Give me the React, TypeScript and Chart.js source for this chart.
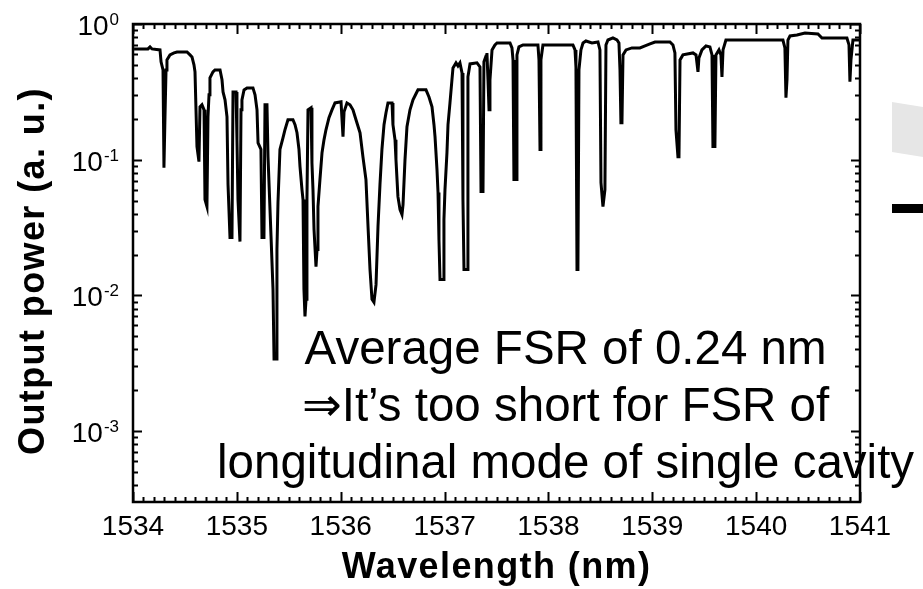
import React, { useEffect, useRef } from 'react';
import { Chart, registerables } from 'chart.js';

Chart.register(...registerables);

// Wavelength (nm) of each traced point
const wavelength = [
  1534.010, 1534.144, 1534.164, 1534.183, 1534.260, 1534.270, 1534.289, 1534.298, 1534.308, 1534.318,
  1534.327, 1534.356, 1534.395, 1534.424, 1534.520, 1534.549, 1534.568, 1534.587, 1534.597, 1534.616,
  1534.635, 1534.645, 1534.664, 1534.684, 1534.693, 1534.712, 1534.722, 1534.732, 1534.741, 1534.770,
  1534.789, 1534.838, 1534.857, 1534.867, 1534.886, 1534.905, 1534.915, 1534.934, 1534.953, 1534.963,
  1534.992, 1535.001, 1535.011, 1535.030, 1535.040, 1535.049, 1535.069, 1535.098, 1535.155, 1535.175,
  1535.194, 1535.204, 1535.232, 1535.242, 1535.261, 1535.271, 1535.290, 1535.300, 1535.329, 1535.348,
  1535.358, 1535.377, 1535.386,
  1535.396, 1535.415, 1535.444, 1535.463, 1535.492, 1535.540, 1535.560, 1535.579, 1535.598, 1535.608,
  1535.627, 1535.637, 1535.646, 1535.656, 1535.666, 1535.675, 1535.685, 1535.714, 1535.723, 1535.733,
  1535.743, 1535.762, 1535.772, 1535.781, 1535.800, 1535.820, 1535.839, 1535.858, 1535.887, 1535.916,
  1535.945, 1536.003, 1536.022, 1536.032, 1536.060, 1536.089, 1536.118, 1536.147, 1536.186, 1536.214,
  1536.243, 1536.263, 1536.282, 1536.301, 1536.320, 1536.340, 1536.359, 1536.378, 1536.397, 1536.417,
  1536.436, 1536.455, 1536.494, 1536.503, 1536.523, 1536.532, 1536.551, 1536.571, 1536.590, 1536.600,
  1536.619, 1536.638, 1536.667, 1536.696, 1536.725, 1536.744, 1536.821, 1536.850, 1536.879, 1536.898,
  1536.908, 1536.927, 1536.937, 1536.946, 1536.956, 1536.985, 1536.994, 1537.004, 1537.023, 1537.033,
  1537.052, 1537.071, 1537.081, 1537.110, 1537.129, 1537.148, 1537.168, 1537.177, 1537.187, 1537.216,
  1537.225, 1537.245, 1537.312, 1537.341, 1537.351, 1537.370, 1537.379, 1537.399, 1537.408, 1537.418,
  1537.428, 1537.437, 1537.457, 1537.485, 1537.505, 1537.630, 1537.649, 1537.659, 1537.668, 1537.688,
  1537.697, 1537.716, 1537.755, 1537.899, 1537.909, 1537.919, 1537.928, 1537.947, 1538.236, 1538.256,
  1538.265, 1538.275, 1538.284, 1538.294, 1538.313, 1538.333, 1538.361, 1538.419, 1538.477, 1538.496,
  1538.506, 1538.525, 1538.544, 1538.554, 1538.573, 1538.621, 1538.660, 1538.679, 1538.689, 1538.698,
  1538.708, 1538.718, 1538.747, 1538.804, 1538.881, 1538.930, 1538.978, 1539.026, 1539.170, 1539.199,
  1539.218, 1539.228, 1539.247, 1539.257, 1539.267, 1539.295, 1539.392, 1539.421, 1539.440, 1539.449,
  1539.478, 1539.517, 1539.555, 1539.575, 1539.584, 1539.603, 1539.613, 1539.642, 1539.661, 1539.671,
  1539.681, 1539.709, 1540.258, 1540.277, 1540.287, 1540.297, 1540.306, 1540.326, 1540.393, 1540.470,
  1540.595, 1540.634, 1540.874, 1540.894, 1540.903, 1540.913, 1540.932, 1541.000,
];

// Output power (a. u.) at each traced point
const power = [
  0.655, 0.655, 0.678, 0.655, 0.644, 0.526, 0.459, 0.0873, 0.207, 0.459,
  0.544, 0.592, 0.612, 0.622, 0.622, 0.592, 0.572, 0.5, 0.444, 0.125,
  0.0967, 0.245, 0.254, 0.233, 0.0508, 0.0451, 0.207, 0.301, 0.401, 0.444,
  0.459, 0.459, 0.388, 0.316, 0.276, 0.207, 0.0655, 0.0267, 0.0267, 0.316,
  0.316, 0.140, 0.0508, 0.0249, 0.233, 0.276, 0.327, 0.338, 0.338, 0.301,
  0.233, 0.133, 0.119, 0.0267, 0.0267, 0.254, 0.254, 0.105, 0.0272, 0.0111,
  0.0034, 0.0034, 0.0218,
  0.0483, 0.119, 0.145, 0.166, 0.197, 0.197, 0.181, 0.158, 0.119, 0.0888,
  0.0602, 0.0508, 0.0111, 0.0070, 0.00935, 0.0508, 0.233, 0.241, 0.095, 0.0602,
  0.0306, 0.0163, 0.0218, 0.0451, 0.0713, 0.1126, 0.140, 0.166, 0.204, 0.233,
  0.262, 0.267, 0.148, 0.225, 0.262, 0.254, 0.233, 0.197, 0.158, 0.105,
  0.0713, 0.0322, 0.0155, 0.00935, 0.0089, 0.0120, 0.0322, 0.0655, 0.119, 0.181,
  0.222, 0.262, 0.262, 0.181, 0.140, 0.1, 0.0534, 0.0429, 0.0394, 0.0467,
  0.1, 0.175, 0.233, 0.276, 0.306, 0.327, 0.327, 0.290, 0.245, 0.181,
  0.148, 0.0844, 0.0572, 0.0258, 0.0131, 0.0131, 0.0362, 0.0602, 0.1126, 0.181,
  0.262, 0.388, 0.475, 0.517, 0.491, 0.517, 0.436, 0.0508, 0.0155, 0.0155,
  0.408, 0.508, 0.517, 0.483, 0.0582, 0.0582, 0.526, 0.582, 0.612, 0.388,
  0.233, 0.388, 0.644, 0.701, 0.725, 0.725, 0.666, 0.544, 0.0713, 0.0713,
  0.592, 0.678, 0.701, 0.701, 0.544, 0.119, 0.544, 0.701, 0.701, 0.644,
  0.483, 0.0155, 0.0155, 0.459, 0.644, 0.725, 0.750, 0.725, 0.737, 0.644,
  0.0678, 0.0451, 0.0602, 0.701, 0.762, 0.789, 0.762, 0.725, 0.459, 0.187,
  0.187, 0.592, 0.644, 0.666, 0.666, 0.689, 0.713, 0.737, 0.737, 0.701,
  0.612, 0.166, 0.105, 0.105, 0.544, 0.592, 0.612, 0.592, 0.444, 0.562,
  0.644, 0.689, 0.678, 0.592, 0.125, 0.125, 0.592, 0.644, 0.592, 0.408,
  0.644, 0.762, 0.762, 0.666, 0.286, 0.388, 0.762, 0.816, 0.830, 0.859,
  0.844, 0.789, 0.789, 0.701, 0.375, 0.544, 0.762, 0.762,
];

const xMin = 1534;
const xMax = 1541;
const yMin = 3.1e-4;
const yMax = 1;
const xTickValues = [1534, 1535, 1536, 1537, 1538, 1539, 1540, 1541];
const yDecadeExponents = [0, -1, -2, -3];
const xTitle = 'Wavelength (nm)';
const yTitle = 'Output power (a. u.)';
const annotationLines = [
  'Average FSR of 0.24 nm',
  '\u21D2It\u2019s too short for FSR of',
  'longitudinal mode of single cavity',
];

const FONT = '"Liberation Sans", Arial, "DejaVu Sans", sans-serif';

const framePlugin = {
  id: 'framePlugin',
  afterDatasetsDraw(chart: any) {
    const ctx = chart.ctx as CanvasRenderingContext2D;
    const { left, right, top, bottom } = chart.chartArea;
    const xs = chart.scales.x;
    const ys = chart.scales.y;
    ctx.save();
    ctx.fillStyle = '#000';
    ctx.strokeStyle = '#000';

    // annotation text
    ctx.font = `47.5px ${FONT}`;
    ctx.textAlign = 'center';
    ctx.textBaseline = 'alphabetic';
    const acx = left + (right - left) * 0.595;
    annotationLines.forEach((t, i) => {
      ctx.fillText(t, acx, 364 + i * 57);
    });

    // frame
    ctx.lineWidth = 2.5;
    ctx.strokeRect(left, top, right - left, bottom - top);

    // x ticks (inward, top & bottom)
    ctx.lineWidth = 2;
    ctx.beginPath();
    const nMinor = Math.round((xMax - xMin) * 10);
    for (let i = 0; i <= nMinor; i++) {
      const v = xMin + i / 10;
      const px = Math.round(xs.getPixelForValue(v)) + 0.5;
      const len = i % 10 === 0 ? 10 : 5;
      ctx.moveTo(px, bottom);
      ctx.lineTo(px, bottom - len);
      ctx.moveTo(px, top);
      ctx.lineTo(px, top + len);
    }
    // y ticks (inward, left & right)
    for (let d = -4; d <= 0; d++) {
      for (let m = 1; m <= 9; m++) {
        const v = m * Math.pow(10, d);
        if (v < yMin || v > yMax * 1.0001) continue;
        const py = Math.round(ys.getPixelForValue(v)) + 0.5;
        const len = m === 1 ? 9 : 5;
        ctx.moveTo(left, py);
        ctx.lineTo(left + len, py);
        ctx.moveTo(right, py);
        ctx.lineTo(right - len, py);
      }
    }
    ctx.stroke();

    // x tick labels
    ctx.font = `28px ${FONT}`;
    ctx.textAlign = 'center';
    ctx.textBaseline = 'alphabetic';
    xTickValues.forEach((v) => {
      ctx.fillText(String(v), xs.getPixelForValue(v), bottom + 33);
    });

    // y tick labels 10^n
    yDecadeExponents.forEach((e) => {
      const py = ys.getPixelForValue(Math.pow(10, e));
      const expText = String(e);
      ctx.font = `17px ${FONT}`;
      ctx.textAlign = 'right';
      const ew = ctx.measureText(expText).width;
      const rx = left - 14;
      ctx.fillText(expText, rx, py + 1);
      ctx.font = `28px ${FONT}`;
      ctx.fillText('10', rx - ew - 1, py + 11);
    });

    // axis titles
    ctx.font = `bold 36px ${FONT}`;
    (ctx as any).letterSpacing = '1.4px';
    ctx.textAlign = 'center';
    ctx.fillText(xTitle, (left + right) / 2, bottom + 76);
    ctx.save();
    ctx.translate(44, (top + bottom) / 2 + 8);
    ctx.rotate(-Math.PI / 2);
    ctx.fillText(yTitle, 0, 0);
    ctx.restore();

    ctx.restore();
  },
};

export default function App() {
  const canvasRef = useRef<HTMLCanvasElement | null>(null);

  useEffect(() => {
    if (!canvasRef.current) return;
    const points = wavelength.map((x, i) => ({ x, y: power[i] }));
    const chart = new Chart(canvasRef.current, {
      type: 'line',
      data: {
        datasets: [
          {
            data: points,
            borderColor: '#000',
            borderWidth: 3,
            pointRadius: 0,
            tension: 0,
            fill: false,
            borderJoinStyle: 'miter',
          },
        ],
      },
      options: {
        responsive: false,
        animation: false,
        devicePixelRatio: 1,
        layout: { padding: { left: 133, right: 63, top: 24, bottom: 87 } },
        plugins: { legend: { display: false }, tooltip: { enabled: false } },
        scales: {
          x: { type: 'linear', min: xMin, max: xMax, display: false },
          y: { type: 'logarithmic', min: yMin, max: yMax, display: false },
        },
      },
      plugins: [framePlugin],
    });
    return () => chart.destroy();
  }, []);

  return (
    <div style={{ position: 'fixed', left: 0, top: 0, width: 923, height: 589, background: '#fff', overflow: 'hidden' }}>
      <canvas ref={canvasRef} width={923} height={589} style={{ display: 'block' }} />
      <div
        style={{
          position: 'absolute',
          left: 892,
          top: 102,
          width: 31,
          height: 55,
          background: '#e6e6e6',
          clipPath: 'polygon(0 0, 100% 9%, 100% 100%, 0 91%)',
        }}
      />
      <div style={{ position: 'absolute', left: 892, top: 204, width: 31, height: 9, background: '#000' }} />
    </div>
  );
}
